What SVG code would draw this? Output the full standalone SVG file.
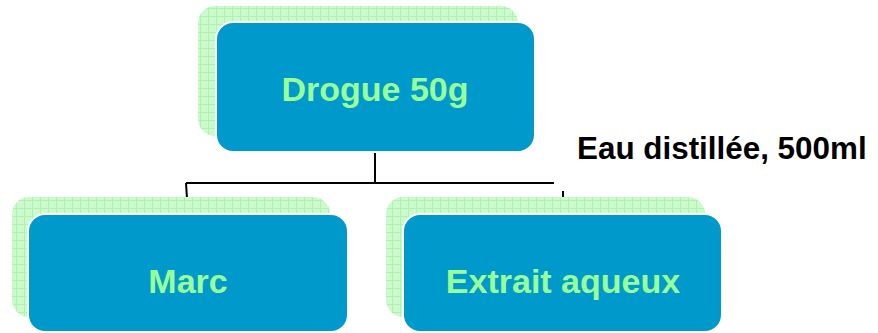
<svg xmlns="http://www.w3.org/2000/svg" width="878" height="333" viewBox="0 0 878 333">
<defs>
<pattern id="grid" width="8" height="8" patternUnits="userSpaceOnUse">
<rect width="8" height="8" fill="#ccfacc"/>
<path d="M0 0.5H8M0.5 0V8" stroke="#adf2ad" stroke-width="1" fill="none"/>
</pattern>
</defs>
<style>
.sh{fill:url(#grid);}
.box{fill:#0099cc;stroke:#ffffff;stroke-width:2;}
.lbl{font-family:"Liberation Sans",Arial,sans-serif;font-weight:bold;font-size:34px;fill:#99ff99;text-anchor:middle;}
.note{font-family:"Liberation Sans",Arial,sans-serif;font-weight:bold;font-size:31.4px;fill:#000000;}
.conn{stroke:#000000;stroke-width:2;fill:none;}
</style>
<g id="connectors">
<path class="conn" d="M375 152V183M186 183H554M186 183L188 214M563 191V214"/>
</g>
<g id="node-drogue">
<rect class="sh" x="198" y="6" width="320" height="130" rx="17"/>
<rect class="box" x="216" y="22" width="319" height="130" rx="17"/>
<text class="lbl" x="375" y="101">Drogue 50g</text>
</g>
<g id="node-marc">
<rect class="sh" x="12" y="197" width="318" height="120" rx="17"/>
<rect class="box" x="28" y="214" width="320" height="118" rx="17"/>
<text class="lbl" x="188" y="293">Marc</text>
</g>
<g id="node-extrait">
<rect class="sh" x="386" y="197" width="319" height="120" rx="17"/>
<rect class="box" x="403" y="214" width="319" height="118" rx="17"/>
<text class="lbl" x="563" y="293">Extrait aqueux</text>
</g>
<text class="note" x="577" y="159">Eau distillée, 500ml</text>
</svg>
